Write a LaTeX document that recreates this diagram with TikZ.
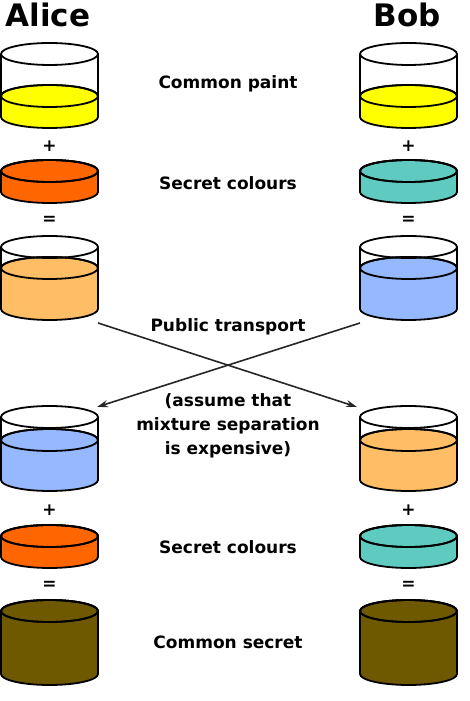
\documentclass[tikz,border=0pt]{standalone}
\usepackage{fontspec}
\setmainfont{DejaVu Sans}
\newfontfamily\lblfont{DejaVu Sans Bold}
\usetikzlibrary{arrows.meta}

\definecolor{paintyellow}{HTML}{FFFF00}
\definecolor{secretorange}{HTML}{FF6600}
\definecolor{mixorange}{HTML}{FFBD66}
\definecolor{secretteal}{HTML}{5FCBC0}
\definecolor{mixblue}{HTML}{96B8FF}
\definecolor{sharedbrown}{HTML}{6E5800}

% pot: centre x, top y, bottom y, paint level y, colour
\newcommand{\paintpot}[5]{%
 \draw[pot,fill=#5](#1-48.5,#4)--(#1-48.5,#3) arc[start angle=180,end angle=360,x radius=48.5,y radius=11]--(#1+48.5,#4) arc[start angle=0,end angle=180,x radius=48.5,y radius=11]--cycle;
 \draw[pot](#1,#4) ellipse[x radius=48.5,y radius=11];
 \draw[pot](#1-48.5,#2)--(#1-48.5,#4);
 \draw[pot](#1+48.5,#2)--(#1+48.5,#4);
 \draw[pot](#1,#2) ellipse[x radius=48.5,y radius=11];
}

\begin{document}
\begin{tikzpicture}[x=1pt,y=1pt,
  pot/.style={line width=1.8pt,black},
  who/.style={font=\fontsize{31}{34}\selectfont\bfseries,inner sep=0pt},
  lbl/.style={font=\lblfont\fontsize{17}{24}\selectfont,inner sep=0pt,align=center},
  sign/.style={font=\lblfont\fontsize{17}{18}\selectfont,inner sep=0pt},
  pass/.style={line width=1.6pt,draw=black!85,-{Stealth[length=11pt,width=7pt]}}]
\useasboundingbox (0,0) rectangle (470,701);

% names
\node[who] (alice) at (48,686) {Alice};
\node[who] (bob) at (407,686) {Bob};

% first row
\paintpot{49.5}{647}{584}{605}{paintyellow}
\paintpot{408.5}{647}{584}{605}{paintyellow}
\node[lbl] (common) at (228,617) {Common paint};
\node[sign] (plusA) at (49.5,555) {+};
\node[sign] (plusB) at (408.5,555) {+};
\paintpot{49.5}{530}{509}{530}{secretorange}
\paintpot{408.5}{530}{509}{530}{secretteal}
\node[lbl] (secretA) at (228,518) {Secret colours};
\node[sign] (eqA) at (49.5,481) {=};
\node[sign] (eqB) at (408.5,481) {=};
\paintpot{49.5}{454}{392}{433}{mixorange}
\paintpot{408.5}{454}{392}{433}{mixblue}

% exchange
\coordinate (aliceSend) at (98,378);
\coordinate (bobSend) at (360,378);
\coordinate (aliceGet) at (97,294);
\coordinate (bobGet) at (357,294);
\draw[pass] (aliceSend) -- (bobGet);
\draw[pass] (bobSend) -- (aliceGet);
\node[lbl] (public) at (228,374) {Public transport};
\node[lbl] (note) at (228,275) {(assume that\\mixture separation\\is expensive)};

% second row
\paintpot{49.5}{284}{221}{261}{mixblue}
\paintpot{408.5}{284}{221}{261}{mixorange}
\node[sign] (plusC) at (49.5,191) {+};
\node[sign] (plusD) at (408.5,191) {+};
\paintpot{49.5}{165}{144}{165}{secretorange}
\paintpot{408.5}{165}{144}{165}{secretteal}
\node[lbl] (secretB) at (228,154) {Secret colours};
\node[sign] (eqC) at (49.5,116) {=};
\node[sign] (eqD) at (408.5,116) {=};
\paintpot{49.5}{90}{27}{90}{sharedbrown}
\paintpot{408.5}{90}{27}{90}{sharedbrown}
\node[lbl] (shared) at (228,59) {Common secret};
\end{tikzpicture}
\end{document}
